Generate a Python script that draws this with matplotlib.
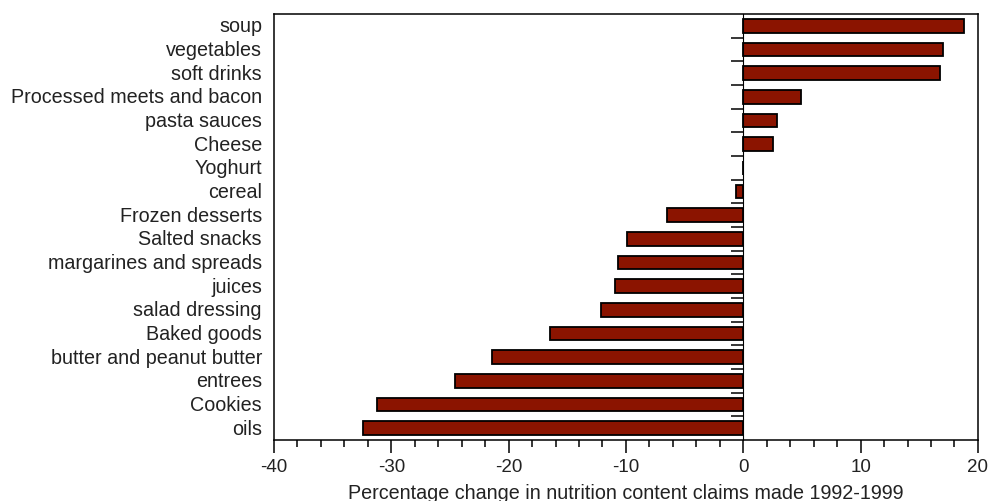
import matplotlib
matplotlib.use("Agg")
import matplotlib.pyplot as plt
import matplotlib.transforms as mtransforms
import numpy as np

# categories, top to bottom
categories = [
    "soup", "vegetables", "soft drinks", "Processed meets and bacon",
    "pasta sauces", "Cheese", "Yoghurt", "cereal", "Frozen desserts",
    "Salted snacks", "margarines and spreads", "juices", "salad dressing",
    "Baked goods", "butter and peanut butter", "entrees", "Cookies", "oils",
]
pct_change = [
    18.8, 17.0, 16.8, 4.9,
    2.9, 2.5, 0.0, -0.6, -6.5,
    -9.9, -10.7, -10.9, -12.1,
    -16.5, -21.4, -24.6, -31.2, -32.4,
]
x_ticks = [-40, -30, -20, -10, 0, 10, 20]

plt.rcParams["font.family"] = ["Liberation Sans", "DejaVu Sans"]
text_color = "#222222"
fs = 14.2

fig = plt.figure(figsize=(10.05, 5.02), dpi=100)
ax = fig.add_axes([0.2726, 0.1215, 0.7005, 0.8487])

y = np.arange(len(categories))
ax.barh(y, pct_change, height=0.58, color="#8B1400", edgecolor="black",
        linewidth=1.3, zorder=2)

ax.set_xlim(-40, 20)
ax.set_ylim(len(categories) - 0.5, -0.5)

# zero line carries the separator ticks between categories
ax.spines["left"].set_position(("data", 0))
ax.spines["left"].set_zorder(3)
ax.set_yticks(y[:-1] + 0.5)
ax.set_yticklabels([])
ax.tick_params(axis="y", direction="out", length=9, width=1.1)

# outer frame on the left
ax.plot([0, 0], [0, 1], transform=ax.transAxes, color="black",
        linewidth=1.1, clip_on=False)
for side in ["top", "right", "bottom"]:
    ax.spines[side].set_linewidth(1.1)

# category names along the left edge
trans = mtransforms.blended_transform_factory(ax.transAxes, ax.transData)
for yi, name in zip(y, categories):
    ax.text(-0.017, yi, name, transform=trans, ha="right", va="center",
            fontsize=fs, color=text_color)

ax.set_xticks(x_ticks)
ax.set_xticklabels([str(t) for t in x_ticks], fontsize=13.5, color=text_color)
ax.set_xticks(np.arange(-40, 21, 2), minor=True)
ax.tick_params(axis="x", which="major", direction="out", length=9, width=1.1,
               pad=4)
ax.tick_params(axis="x", which="minor", direction="out", length=5, width=1.1)
ax.set_xlabel("Percentage change in nutrition content claims made 1992-1999",
              fontsize=fs, color=text_color, labelpad=6)

fig.savefig("out.png", dpi=100)
